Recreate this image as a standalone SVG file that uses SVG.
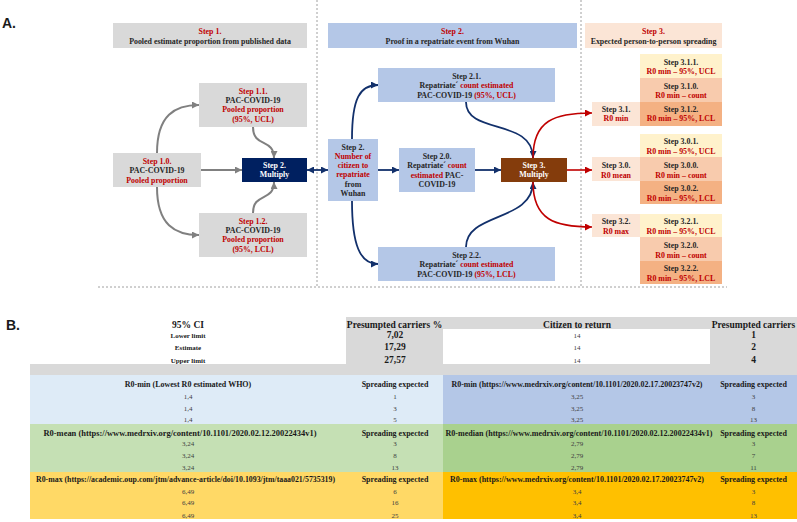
<svg xmlns="http://www.w3.org/2000/svg" width="797" height="522" viewBox="0 0 797 522">
<style>
.t{font-family:"Liberation Serif","Times New Roman",serif;font-weight:bold;font-size:7.9px;text-anchor:middle;fill:#262626}
.r{fill:#c00000}
.w{fill:#ffffff}
.lbl{font-family:"Liberation Sans",Arial,sans-serif;font-weight:bold;font-size:14px;fill:#1a1a1a}
.div{stroke:#a0a0a0;stroke-width:1;stroke-dasharray:2,2;fill:none}
.cg{stroke:#808080;stroke-width:2;fill:none}
.cn{stroke:#12306b;stroke-width:1.8;fill:none}
.cr{stroke:#c00000;stroke-width:1.6;fill:none}
.th{font-family:"Liberation Serif","Times New Roman",serif;font-weight:bold;font-size:9.5px;text-anchor:middle;fill:#1a1a1a}
.tb{font-family:"Liberation Serif","Times New Roman",serif;font-weight:bold;font-size:8px;text-anchor:middle;fill:#1a1a1a}
.ts{font-family:"Liberation Serif","Times New Roman",serif;font-weight:bold;font-size:7px;text-anchor:middle;fill:#1a1a1a}
.tv{font-family:"Liberation Serif","Times New Roman",serif;font-size:7px;text-anchor:middle;fill:#404040}
.gray{fill:#d9d9d9}
.blue{fill:#b4c7e7}
.peach{fill:#fbe5d6}
.y1{fill:#fff2cc}
.y0{fill:#f8cbad}
.y2{fill:#f4b183}
</style>
<defs>
<marker id="ag" viewBox="0 0 10 10" refX="10" refY="5" markerWidth="7" markerHeight="7" markerUnits="userSpaceOnUse" orient="auto"><path d="M0,0 L10,5 L0,10 z" fill="#808080"/></marker>
<marker id="an" viewBox="0 0 10 10" refX="10" refY="5" markerWidth="7" markerHeight="7" markerUnits="userSpaceOnUse" orient="auto-start-reverse"><path d="M0,0 L10,5 L0,10 z" fill="#12306b"/></marker>
<marker id="ar" viewBox="0 0 10 10" refX="10" refY="5" markerWidth="7" markerHeight="7" markerUnits="userSpaceOnUse" orient="auto"><path d="M0,0 L10,5 L0,10 z" fill="#c00000"/></marker>
</defs>
<rect width="797" height="522" fill="#ffffff"/>

<text class="lbl" x="2" y="28">A.</text>
<text class="lbl" x="6" y="330">B.</text>

<g id="dividers">
<line class="div" x1="317" y1="0" x2="317" y2="287"/>
<line class="div" x1="581" y1="0" x2="581" y2="287"/>
<line class="div" x1="98" y1="287" x2="727" y2="287"/>
</g>

<g id="connectors">
<path class="cg" d="M157,153 C157,115 175,105 199,105" marker-end="url(#ag)"/>
<path class="cg" d="M157,187 C157,225 175,235 199,235" marker-end="url(#ag)"/>
<path class="cg" d="M201,170 L242,170" marker-end="url(#ag)"/>
<path class="cg" d="M253,127 C253,148 274,138 274,158" marker-end="url(#ag)"/>
<path class="cg" d="M253,213 C253,192 274,202 274,182" marker-end="url(#ag)"/>
<path class="cn" d="M307,170 L328,170" marker-start="url(#an)" marker-end="url(#an)"/>
<path class="cn" d="M352,139 C352,98 360,85 378,85" marker-end="url(#an)"/>
<path class="cn" d="M352,201 C352,245 360,264 378,264" marker-end="url(#an)"/>
<path class="cn" d="M378,170 L399,170" marker-end="url(#an)"/>
<path class="cn" d="M475,170 L501,170" marker-end="url(#an)"/>
<path class="cn" d="M466,102 C466,135 533,118 533,158" marker-end="url(#an)"/>
<path class="cn" d="M466,247 C466,212 533,222 533,182" marker-end="url(#an)"/>
<path class="cr" d="M533,158 C533,120 555,113 592,113" marker-end="url(#ar)"/>
<path class="cr" d="M567,170 L592,170" marker-end="url(#ar)"/>
<path class="cr" d="M533,182 C533,220 555,227 592,227" marker-end="url(#ar)"/>
</g>

<g id="step1-header"><rect class="gray" x="113" y="23" width="194" height="25"/>
<text class="t" x="210" y="33.5"><tspan class="r">Step 1.</tspan></text>
<text class="t" x="210" y="43.5">Pooled estimate proportion from published data</text></g>

<g id="step2-header"><rect class="blue" x="328" y="23" width="249" height="25"/>
<text class="t" x="452.5" y="33.5"><tspan class="r">Step 2.</tspan></text>
<text class="t" x="452.5" y="43.5">Proof in a repatriate event from Wuhan</text></g>

<g id="step3-header"><rect class="peach" x="585" y="23" width="137" height="25"/>
<text class="t" x="653.5" y="33.5"><tspan class="r">Step 3.</tspan></text>
<text class="t" x="653.5" y="43.5">Expected person-to-person spreading</text></g>

<g id="step1-1"><rect class="gray" x="199" y="83" width="108" height="44"/>
<text class="t r" x="253" y="93.5">Step 1.1.</text>
<text class="t" x="253" y="103">PAC-COVID-19</text>
<text class="t r" x="253" y="112.3">Pooled proportion</text>
<text class="t r" x="253" y="121.5">(95%, UCL)</text></g>

<g id="step1-0"><rect class="gray" x="113" y="153" width="88" height="34"/>
<text class="t r" x="157" y="163.5">Step 1.0.</text>
<text class="t" x="157" y="173">PAC-COVID-19</text>
<text class="t r" x="157" y="182.5">Pooled proportion</text></g>

<g id="step1-2"><rect class="gray" x="199" y="213" width="108" height="44"/>
<text class="t r" x="253" y="223.5">Step 1.2.</text>
<text class="t" x="253" y="233">PAC-COVID-19</text>
<text class="t r" x="253" y="242.3">Pooled proportion</text>
<text class="t r" x="253" y="251.5">(95%, LCL)</text></g>

<g id="multiply2"><rect x="242" y="158" width="65" height="24" fill="#002060"/>
<text class="t w" x="274.5" y="167.5">Step 2.</text>
<text class="t w" x="274.5" y="177">Multiply</text></g>

<g id="step2"><rect class="blue" x="328" y="139" width="50" height="62"/>
<text class="t" x="353" y="149.5">Step 2.</text>
<text class="t r" x="353" y="158.8">Number of</text>
<text class="t r" x="353" y="168">citizen to</text>
<text class="t r" x="353" y="177.3">repatriate</text>
<text class="t" x="353" y="186.6">from</text>
<text class="t" x="353" y="196">Wuhan</text></g>

<g id="step2-1"><rect class="blue" x="378" y="68" width="177" height="34"/>
<text class="t" x="466.5" y="78.5">Step 2.1.</text>
<text class="t" x="466.5" y="88">Repatriate´ <tspan class="r">count estimated</tspan></text>
<text class="t" x="466.5" y="97.5">PAC-COVID-19 <tspan class="r">(95%, UCL)</tspan></text></g>

<g id="step2-0"><rect class="blue" x="399" y="148" width="76" height="44"/>
<text class="t" x="437" y="158.5">Step 2.0.</text>
<text class="t" x="437" y="168">Repatriate´ <tspan class="r">count</tspan></text>
<text class="t" x="437" y="177.5"><tspan class="r">estimated</tspan> PAC-</text>
<text class="t" x="437" y="187">COVID-19</text></g>

<g id="step2-2"><rect class="blue" x="378" y="247" width="177" height="34"/>
<text class="t" x="466.5" y="257.5">Step 2.2.</text>
<text class="t" x="466.5" y="267">Repatriate´ <tspan class="r">count estimated</tspan></text>
<text class="t" x="466.5" y="276.5">PAC-COVID-19 <tspan class="r">(95%, LCL)</tspan></text></g>

<g id="multiply3"><rect x="501" y="158" width="66" height="24" fill="#843c0c"/>
<text class="t w" x="534" y="167.5">Step 3.</text>
<text class="t w" x="534" y="177">Multiply</text></g>

<g id="step3-1"><rect class="peach" x="592" y="102" width="48" height="24"/>
<text class="t" x="616" y="111.5">Step 3.1.</text>
<text class="t r" x="616" y="121">R0 min</text></g>
<g id="step3-1-1"><rect class="y1" x="640" y="54" width="82" height="24"/>
<text class="t" x="681" y="64.5">Step 3.1.1.</text>
<text class="t r" x="681" y="74">R0 min – 95%, UCL</text></g>
<g id="step3-1-0"><rect class="y0" x="640" y="78" width="82" height="24"/>
<text class="t" x="681" y="88.5">Step 3.1.0.</text>
<text class="t r" x="681" y="98">R0 min – count</text></g>
<g id="step3-1-2"><rect class="y2" x="640" y="102" width="82" height="24"/>
<text class="t" x="681" y="111.5">Step 3.1.2.</text>
<text class="t r" x="681" y="121">R0 min – 95%, LCL</text></g>

<g id="step3-0"><rect class="peach" x="592" y="157" width="48" height="24"/>
<text class="t" x="616" y="168">Step 3.0.</text>
<text class="t r" x="616" y="177.5">R0 mean</text></g>
<g id="step3-0-1"><rect class="y1" x="640" y="134" width="82" height="23"/>
<text class="t" x="681" y="144">Step 3.0.1.</text>
<text class="t r" x="681" y="153.5">R0 min – 95%, UCL</text></g>
<g id="step3-0-0"><rect class="y0" x="640" y="157" width="82" height="24"/>
<text class="t" x="681" y="168">Step 3.0.0.</text>
<text class="t r" x="681" y="177.5">R0 min – count</text></g>
<g id="step3-0-2"><rect class="y2" x="640" y="181" width="82" height="23"/>
<text class="t" x="681" y="191">Step 3.0.2.</text>
<text class="t r" x="681" y="200.5">R0 min – 95%, LCL</text></g>

<g id="step3-2"><rect class="peach" x="592" y="214" width="48" height="23"/>
<text class="t" x="616" y="224">Step 3.2.</text>
<text class="t r" x="616" y="233.5">R0 max</text></g>
<g id="step3-2-1"><rect class="y1" x="640" y="214" width="82" height="23"/>
<text class="t" x="681" y="224">Step 3.2.1.</text>
<text class="t r" x="681" y="233.5">R0 min – 95%, UCL</text></g>
<g id="step3-2-0"><rect class="y0" x="640" y="237" width="82" height="24"/>
<text class="t" x="681" y="248">Step 3.2.0.</text>
<text class="t r" x="681" y="257.5">R0 min – count</text></g>
<g id="step3-2-2"><rect class="y2" x="640" y="261" width="82" height="23"/>
<text class="t" x="681" y="271">Step 3.2.2.</text>
<text class="t r" x="681" y="280.5">R0 min – 95%, LCL</text></g>

<g id="table">
<rect class="gray" x="346" y="317" width="97" height="47"/>
<rect class="gray" x="443" y="317" width="267" height="12"/>
<rect class="gray" x="710" y="317" width="87" height="47"/>
<rect class="gray" x="30" y="364" width="767" height="11"/>
<rect x="30" y="375" width="413" height="49" fill="#deebf7"/>
<rect x="443" y="375" width="354" height="49" fill="#b4c7e7"/>
<rect x="30" y="424" width="413" height="48" fill="#c5e0b4"/>
<rect x="443" y="424" width="354" height="48" fill="#a9d18e"/>
<rect x="30" y="472" width="413" height="47" fill="#ffd966"/>
<rect x="443" y="472" width="354" height="47" fill="#ffc000"/>

<text class="th" x="188" y="327.5">95% CI</text>
<text class="th" x="394.5" y="327.5">Presumpted carriers %</text>
<text class="th" x="577" y="327.5">Citizen to return</text>
<text class="th" x="753.5" y="327.5">Presumpted carriers</text>
<text class="ts" x="188" y="337.5">Lower limit</text>
<text class="ts" x="188" y="349.5">Estimate</text>
<text class="ts" x="188" y="362.5">Upper limit</text>
<text class="th" x="395" y="338">7,02</text>
<text class="th" x="395" y="350">17,29</text>
<text class="th" x="395" y="363">27,57</text>
<text class="tv" x="577" y="337.5">14</text>
<text class="tv" x="577" y="349.5">14</text>
<text class="tv" x="577" y="362.5">14</text>
<text class="th" x="753.5" y="338">1</text>
<text class="th" x="753.5" y="350">2</text>
<text class="th" x="753.5" y="363">4</text>

<text class="tb" x="188" y="386.5">R0-min (Lowest R0 estimated WHO)</text>
<text class="tb" x="395" y="386.5">Spreading expected</text>
<text class="tb" x="577" y="386.5" textLength="251" lengthAdjust="spacingAndGlyphs">R0-min (https://www.medrxiv.org/content/10.1101/2020.02.17.20023747v2)</text>
<text class="tb" x="753.5" y="386.5">Spreading expected</text>
<text class="tv" x="188" y="399">1,4</text><text class="tv" x="395" y="399">1</text><text class="tv" x="577" y="399">3,25</text><text class="tv" x="753.5" y="399">3</text>
<text class="tv" x="188" y="410.5">1,4</text><text class="tv" x="395" y="410.5">3</text><text class="tv" x="577" y="410.5">3,25</text><text class="tv" x="753.5" y="410.5">8</text>
<text class="tv" x="188" y="422">1,4</text><text class="tv" x="395" y="422">5</text><text class="tv" x="577" y="422">3,25</text><text class="tv" x="753.5" y="422">13</text>

<text class="tb" x="180" y="435.5" textLength="273" lengthAdjust="spacingAndGlyphs">R0-mean (https://www.medrxiv.org/content/10.1101/2020.02.12.20022434v1)</text>
<text class="tb" x="395" y="435.5">Spreading expected</text>
<text class="tb" x="579" y="435.5" textLength="267" lengthAdjust="spacingAndGlyphs">R0-median (https://www.medrxiv.org/content/10.1101/2020.02.12.20022434v1)</text>
<text class="tb" x="753.5" y="435.5">Spreading expected</text>
<text class="tv" x="188" y="446">3,24</text><text class="tv" x="395" y="446">3</text><text class="tv" x="577" y="446">2,79</text><text class="tv" x="753.5" y="446">3</text>
<text class="tv" x="188" y="457.5">3,24</text><text class="tv" x="395" y="457.5">8</text><text class="tv" x="577" y="457.5">2,79</text><text class="tv" x="753.5" y="457.5">7</text>
<text class="tv" x="188" y="469.5">3,24</text><text class="tv" x="395" y="469.5">13</text><text class="tv" x="577" y="469.5">2,79</text><text class="tv" x="753.5" y="469.5">11</text>

<text class="tb" x="185.5" y="482" textLength="299" lengthAdjust="spacingAndGlyphs">R0-max (https://academic.oup.com/jtm/advance-article/doi/10.1093/jtm/taaa021/5735319)</text>
<text class="tb" x="395" y="482">Spreading expected</text>
<text class="tb" x="577" y="482" textLength="254" lengthAdjust="spacingAndGlyphs">R0-max (https://www.medrxiv.org/content/10.1101/2020.02.17.20023747v2)</text>
<text class="tb" x="753.5" y="482">Spreading expected</text>
<text class="tv" x="188" y="493.5">6,49</text><text class="tv" x="395" y="493.5">6</text><text class="tv" x="577" y="493.5">3,4</text><text class="tv" x="753.5" y="493.5">3</text>
<text class="tv" x="188" y="505">6,49</text><text class="tv" x="395" y="505">16</text><text class="tv" x="577" y="505">3,4</text><text class="tv" x="753.5" y="505">8</text>
<text class="tv" x="188" y="517.5">6,49</text><text class="tv" x="395" y="517.5">25</text><text class="tv" x="577" y="517.5">3,4</text><text class="tv" x="753.5" y="517.5">13</text>
</g>
</svg>
